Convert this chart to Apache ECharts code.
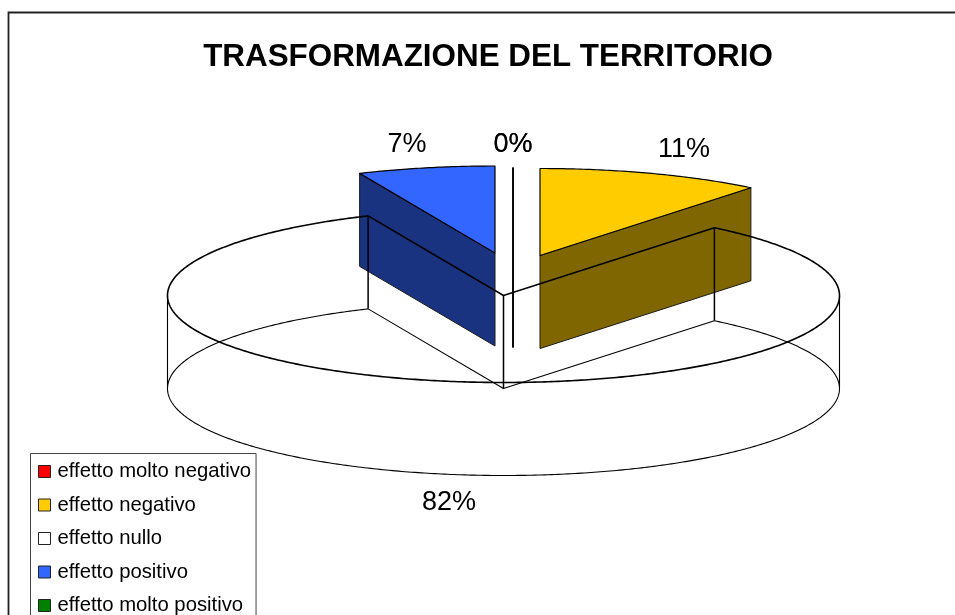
<!DOCTYPE html>
<html><head><meta charset="utf-8">
<style>html,body{margin:0;padding:0;background:#fff;overflow:hidden}#c{width:955px;height:615px}</style>
<script src="https://cdn.jsdelivr.net/npm/echarts@6/dist/echarts.min.js"></script>
</head><body><div id="c"></div>
<script>
const categories = ['effetto molto negativo','effetto negativo','effetto nullo','effetto positivo','effetto molto positivo'];
const values = [0, 10.8, 82.6, 6.6, 0];
const percentLabels = ['0%','11%','82%','7%','0%'];
const topColors = ['#FF0000','#FFCC00','#FFFFFF','#3366FF','#008000'];
const wallColors = ['#800000','#806600','#FFFFFF','#1A3380','#004000'];

// pie geometry (layout, not data)
const CX = 503.5, CY = 295.5, A = 336, B = 87, DEPTH = 93;
const explodeX = [9.5, 36.5, 0, -8.5, 9.5];
const explodeY = [-41, -40, 0, -42.5, -41];
const labelX = [513, 684, 449, 407, 513];
const labelY = [145, 150, 503, 145, 145];
const zOrder = [3, 2, 4, 2, 3];

const total = values.reduce((s, v) => s + v, 0);
const starts = []; values.reduce((s, v, i) => (starts[i] = s, s + v), 0);
const rad = v => v / total * Math.PI * 2;

function arc(cx, cy, t0, t1) {
  const n = Math.max(2, Math.ceil((t1 - t0) / 0.01)), pts = [];
  for (let i = 0; i <= n; i++) {
    const t = t0 + (t1 - t0) * i / n;
    pts.push([cx + A * Math.sin(t), cy - B * Math.cos(t)]);
  }
  return pts;
}
const poly = (pts, fill, stroke, w, closed) => ({
  type: closed ? 'polygon' : 'polyline',
  shape: { points: pts },
  style: { fill: closed ? fill : 'none', stroke, lineWidth: w, lineJoin: 'round' },
  silent: true
});
const label = i => ({
  type: 'text',
  style: { x: labelX[i], y: labelY[i], text: percentLabels[i], fill: '#000',
           font: '27px "Liberation Sans", Arial, sans-serif', align: 'center', verticalAlign: 'middle' },
  silent: true
});

function renderSlice(i) {
  const cx = CX + explodeX[i], cy = CY + explodeY[i];
  const t0 = rad(starts[i]), t1 = rad(starts[i] + values[i]);
  const apex = [cx, cy], els = [];
  const down = p => [p[0], p[1] + DEPTH];
  const rim = arc(cx, cy, t0, t1);
  if (values[i] === 0) {
    els.push(poly([rim[0], down(apex)], 'none', '#000', 1.6, false));
  } else if (categories[i] === 'effetto nullo') {
    // the "no effect" slice has no fill: only its wireframe is drawn
    const first = rim[0], last = rim[rim.length - 1];
    els.push(poly(rim.map(down), 'none', '#000', 1.1, false));
    els.push(poly([down(first), down(apex), down(last)], 'none', '#000', 1.1, false));
    els.push(poly([[cx - A, cy], [cx - A, cy + DEPTH]], 'none', '#000', 1.1, false));
    els.push(poly([[cx + A, cy], [cx + A, cy + DEPTH]], 'none', '#000', 1.1, false));
    els.push(poly([first, down(first)], 'none', '#000', 1.5, false));
    els.push(poly([last, down(last)], 'none', '#000', 1.5, false));
    els.push(poly([apex, down(apex)], 'none', '#000', 1.5, false));
    els.push(poly(rim, 'none', '#000', 1.6, false));
    els.push(poly([first, apex, last], 'none', '#000', 1.6, false));
  } else {
    const wall = p => poly([apex, p, down(p), down(apex)], wallColors[i], '#1a1a1a', 1, true);
    if (Math.sin(t0) < -1e-6) els.push(wall(rim[0]));
    if (Math.sin(t1) > 1e-6) els.push(wall(rim[rim.length - 1]));
    els.push(poly([apex].concat(rim), topColors[i], '#000', 1.2, true));
  }
  els.push(label(i));
  return { type: 'group', children: els };
}

const chart = echarts.init(document.getElementById('c'), null, { renderer: 'canvas' });
chart.setOption({
  animation: false,
  backgroundColor: '#fff',
  title: {
    text: 'TRASFORMAZIONE DEL TERRITORIO', left: 488, top: 39, textAlign: 'center',
    textStyle: { fontFamily: '"Liberation Sans", Arial, sans-serif', fontWeight: 'bold', fontSize: 31.4, color: '#000', lineHeight: 36 },
    padding: 0
  },
  graphic: [{
    type: 'rect', z: -1, silent: true,
    shape: { x: 8.5, y: 12.5, width: 1000, height: 700 },
    style: { fill: 'none', stroke: '#222', lineWidth: 1.8 }
  }],
  legend: {
    orient: 'vertical', left: 30.5, top: 453.5, height: 400, itemWidth: 12, itemHeight: 12, itemGap: 13.5,
    padding: [8, 5, 12, 7.5], backgroundColor: '#fff', borderColor: '#444', borderWidth: 1, borderRadius: 0,
    selectedMode: false, icon: 'rect', itemStyle: { borderWidth: 1, borderColor: '#222' },
    textStyle: { fontFamily: '"Liberation Sans", Arial, sans-serif', fontSize: 20.3, color: '#000', padding: [0, 0, 0, 2], lineHeight: 12 },
    data: categories.map((name, i) => ({ name, icon: 'rect', itemStyle: { color: topColors[i], borderColor: '#222', borderWidth: 1 } }))
  },
  series: categories.map((name, i) => ({
    type: 'custom', name, coordinateSystem: 'none', z: zOrder[i], silent: true,
    itemStyle: { color: topColors[i] },
    data: [[values[i]]],
    renderItem: () => renderSlice(i)
  }))
});
</script></body></html>
